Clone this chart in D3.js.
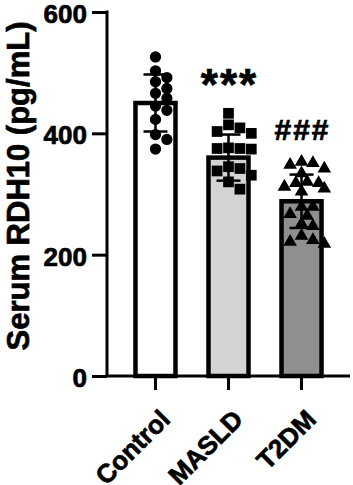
<!DOCTYPE html>
<html>
<head>
<meta charset="utf-8">
<script src="https://cdn.jsdelivr.net/npm/d3@7"></script>
<style>
  html, body { margin: 0; padding: 0; background: #fff; }
  svg { display: block; }
  text { font-family: "Liberation Sans", Arial, Helvetica, sans-serif; font-weight: bold; }
</style>
</head>
<body>
<svg id="chart" width="353" height="485"></svg>
<script>
// ---- data ----
const categories = ["Control", "MASLD", "T2DM"];
const means = [450, 360, 288];
const sds = [47, 38, 44];
const controlValues = [526, 503, 492, 485, 474, 466, 458, 445, 438, 423, 398, 390, 374];
const maslDValues = [433, 414, 409, 403, 400, 376, 375, 375, 374, 345, 342, 338, 331, 320, 308];
const t2dmValues = [353, 351, 348, 342, 334, 320, 318, 318, 312, 309, 304, 279, 279, 267, 264, 251, 247, 231, 224, 221, 218];
const groupValues = [controlValues, maslDValues, t2dmValues];
const yTicks = [0, 200, 400, 600];
const significance = ["", "***", "###"];
const yTitle = "Serum RDH10 (pg/mL)";

// ---- styles ----
const fills = ["#ffffff", "#d4d4d4", "#8f8f8f"];
const shapes = [d3.symbolCircle, d3.symbolSquare, d3.symbolTriangle];
const heavy = 0.7; // extra stroke to mimic the heavy bold of the reference

const svg = d3.select("#chart");
const axisX = 107, axisY = 376;

const y = d3.scaleLinear().domain([0, 600]).range([axisY, 12]);
const x = d3.scaleBand().domain(categories).range([axisX, 350])
  .paddingInner(0.452).paddingOuter(0.39);

// bars
svg.append("g").selectAll("rect").data(categories).join("rect")
  .attr("x", d => x(d))
  .attr("y", (d, i) => y(means[i]))
  .attr("width", x.bandwidth())
  .attr("height", (d, i) => y(0) - y(means[i]))
  .attr("fill", (d, i) => fills[i])
  .attr("stroke", "#000")
  .attr("stroke-width", 4.5);

// error bars
const eb = svg.append("g").attr("stroke", "#000").attr("stroke-width", 2.5);
categories.forEach((c, i) => {
  const cx = x(c) + x.bandwidth() / 2;
  eb.append("line").attr("x1", cx).attr("x2", cx)
    .attr("y1", y(means[i] + sds[i])).attr("y2", y(means[i] - sds[i]));
  [means[i] + sds[i], means[i] - sds[i]].forEach(v => {
    eb.append("line").attr("x1", cx - 12).attr("x2", cx + 12)
      .attr("y1", y(v)).attr("y2", y(v));
  });
});

// points: simple beeswarm placement
const symbolSizes = [100, 115, 80];
categories.forEach((c, i) => {
  const cx = x(c) + x.bandwidth() / 2;
  const vals = groupValues[i].slice().sort((a, b) => b - a);
  const placed = [];
  const minDist = 9.5, step = 5.7;
  vals.forEach(v => {
    const py = y(v);
    let off = 0;
    for (let k = 0; k < 12; k++) {
      const cand = k === 0 ? 0 : (k % 2 ? 1 : -1) * Math.ceil(k / 2) * step;
      const ok = placed.every(p => Math.hypot(p.x - cand, p.y - py) >= minDist);
      if (ok) { off = cand; break; }
      if (Math.abs(cand) > 18) { off = cand; break; }
    }
    placed.push({ x: off, y: py });
  });
  svg.append("g").selectAll("path").data(placed).join("path")
    .attr("transform", p => `translate(${cx + p.x},${p.y})`)
    .attr("d", d3.symbol().type(shapes[i]).size(symbolSizes[i]))
    .attr("fill", "#000");
});

// y axis
const yAxis = svg.append("g").attr("transform", `translate(${axisX},0)`)
  .call(d3.axisLeft(y).tickValues(yTicks).tickSize(15).tickPadding(5).tickSizeOuter(0));
yAxis.select(".domain").attr("stroke-width", 3).attr("d", `M0,${y(600) - 1.5}V${axisY}`);
yAxis.selectAll(".tick line").attr("stroke-width", 3);
yAxis.selectAll(".tick text").attr("font-size", 26).attr("fill", "#000").attr("font-weight", "bold")
  .attr("font-family", "Liberation Sans, Arial, sans-serif").attr("dy", "0.4em")
  .attr("stroke", "#000").attr("stroke-width", heavy);

// x axis
const xAxis = svg.append("g").attr("transform", `translate(0,${axisY})`)
  .call(d3.axisBottom(x).tickSize(14).tickSizeOuter(0));
xAxis.select(".domain").attr("stroke-width", 3).attr("d", `M${axisX - 1.5},0H350`);
xAxis.selectAll(".tick line").attr("stroke-width", 3);
xAxis.selectAll(".tick text")
  .attr("font-size", 26).attr("fill", "#000").attr("font-weight", "bold")
  .attr("font-family", "Liberation Sans, Arial, sans-serif")
  .attr("stroke", "#000").attr("stroke-width", heavy)
  .attr("text-anchor", "end")
  .attr("y", 0).attr("dy", 0)
  .attr("transform", "translate(16,45) rotate(-45)");

// y title
svg.append("text")
  .attr("transform", `translate(29,186) rotate(-90)`)
  .attr("text-anchor", "middle")
  .attr("font-size", 31)
  .attr("fill", "#000")
  .attr("stroke", "#000").attr("stroke-width", heavy)
  .text(yTitle);

// significance marks
svg.append("g").selectAll("text").data(categories).join("text")
  .attr("x", d => x(d) + x.bandwidth() / 2 + 1)
  .attr("y", (d, i) => i === 1 ? 100 : 140)
  .attr("text-anchor", "middle")
  .attr("font-size", (d, i) => i === 1 ? 44 : 30)
  .attr("letter-spacing", 2)
  .attr("fill", "#000")
  .attr("stroke", "#000").attr("stroke-width", heavy)
  .text((d, i) => significance[i]);
</script>
</body>
</html>
